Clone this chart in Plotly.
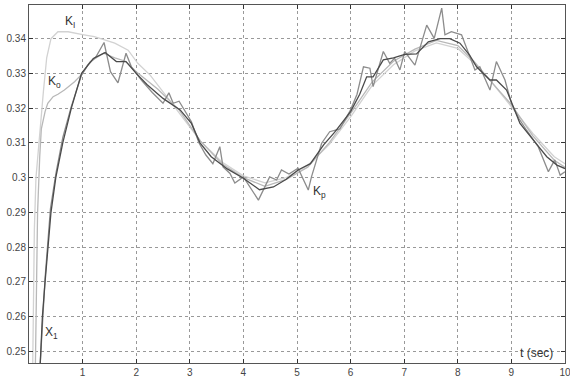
import plotly.graph_objects as go

# ---- data ----
t_KI = [0.07, 0.10, 0.13, 0.20, 0.27, 0.33, 0.41, 0.54, 0.73, 1.0, 1.22, 1.6, 1.85, 2.03, 2.26, 2.57, 2.8,
        3.2, 3.6, 4.0, 4.4, 4.8, 5.2, 5.6, 6.0, 6.4, 6.8, 7.2, 7.6, 8.0, 8.3, 8.6, 9.0, 9.4, 9.8, 10.0]
y_KI = [0.2466, 0.285, 0.300, 0.3137, 0.325, 0.3345, 0.3400, 0.3420, 0.3420, 0.3412, 0.3406, 0.3387, 0.3367,
        0.3329, 0.3295, 0.3233, 0.3185, 0.3105, 0.3045, 0.3005, 0.2985, 0.3000, 0.3035, 0.3095, 0.3175,
        0.3265, 0.3325, 0.3365, 0.3388, 0.3372, 0.3330, 0.3281, 0.3204, 0.3127, 0.3060, 0.3040]

t_Ko = [0.12, 0.16, 0.20, 0.23, 0.30, 0.35, 0.45, 0.54, 0.66, 0.85, 1.0, 1.14, 1.39, 1.6, 1.8, 2.0, 2.4, 2.8,
        3.2, 3.6, 4.0, 4.4, 4.8, 5.2, 5.6, 6.0, 6.4, 6.8, 7.2, 7.6, 8.0, 8.3, 8.6, 9.0, 9.4, 9.8, 10.0]
y_Ko = [0.2466, 0.290, 0.306, 0.314, 0.319, 0.3214, 0.3233, 0.3240, 0.3252, 0.3276, 0.3300, 0.3334, 0.3358,
        0.3345, 0.3335, 0.3305, 0.3255, 0.3195, 0.3105, 0.3040, 0.3000, 0.2975, 0.2995, 0.3030, 0.3100,
        0.3185, 0.3275, 0.3335, 0.3370, 0.3395, 0.3380, 0.3335, 0.3280, 0.3210, 0.3120, 0.3050, 0.3030]

t_X1 = [0.21, 0.25, 0.30, 0.35, 0.41, 0.50, 0.63, 0.79, 0.98, 1.2, 1.42, 1.63, 1.81, 2.0, 2.2, 2.5, 2.82,
        3.03, 3.19, 3.4, 3.7, 4.0, 4.3, 4.56, 4.8, 5.02, 5.25, 5.5, 5.7, 6.0, 6.17, 6.3, 6.42, 6.61, 6.8,
        7.01, 7.23, 7.45, 7.67, 7.85, 8.04, 8.22, 8.35, 8.6, 8.72, 8.91, 9.03, 9.16, 9.41, 9.66, 9.85, 10.0]
y_X1 = [0.2466, 0.260, 0.270, 0.280, 0.290, 0.300, 0.310, 0.320, 0.330, 0.3343, 0.3360, 0.3334, 0.3334,
        0.3300, 0.3268, 0.3228, 0.3195, 0.3156, 0.3100, 0.3060, 0.3025, 0.2998, 0.2965, 0.2973, 0.2995,
        0.3022, 0.3040, 0.3095, 0.3130, 0.3190, 0.3240, 0.3290, 0.3290, 0.3339, 0.3345, 0.3355, 0.3356,
        0.3391, 0.3400, 0.3400, 0.3387, 0.3353, 0.3319, 0.3281, 0.3281, 0.3252, 0.3204, 0.3156, 0.3108,
        0.3060, 0.3036, 0.3026]

t_Kp = [0.21, 0.3, 0.4, 0.5, 0.63, 0.79, 0.98, 1.1, 1.25, 1.40, 1.52, 1.66, 1.81, 1.91, 2.1, 2.3, 2.5, 2.61,
        2.69, 2.80, 3.03, 3.17, 3.30, 3.43, 3.56, 3.62, 3.75, 3.84, 4.0, 4.15, 4.28, 4.49, 4.62, 4.71, 4.85,
        5.02, 5.21, 5.27, 5.46, 5.61, 5.8, 6.0, 6.12, 6.24, 6.36, 6.42, 6.61, 6.73, 6.82, 6.92, 7.01, 7.20,
        7.42, 7.56, 7.70, 7.76, 7.88, 8.07, 8.23, 8.32, 8.41, 8.60, 8.72, 8.88, 9.0, 9.14, 9.28, 9.50, 9.69,
        9.81, 9.91, 10.0]
y_Kp = [0.2466, 0.271, 0.291, 0.301, 0.3115, 0.3205, 0.3295, 0.3325, 0.3348, 0.3389, 0.3305, 0.3273, 0.3358,
        0.3319, 0.3280, 0.3245, 0.3214, 0.3244, 0.3214, 0.3220, 0.3161, 0.3100, 0.3065, 0.3040, 0.3089,
        0.3031, 0.3012, 0.2984, 0.3002, 0.2965, 0.2935, 0.3002, 0.2993, 0.3022, 0.3010, 0.3027, 0.2964,
        0.3002, 0.3099, 0.3132, 0.3140, 0.3195, 0.3240, 0.3319, 0.3315, 0.3262, 0.3363, 0.3329, 0.3344,
        0.3310, 0.3363, 0.3324, 0.3439, 0.3401, 0.3488, 0.3411, 0.3420, 0.3411, 0.3344, 0.3310, 0.3319,
        0.3252, 0.3334, 0.3281, 0.3214, 0.3170, 0.3137, 0.3089, 0.3017, 0.3051, 0.3007, 0.3017]

x_ticks = [1, 2, 3, 4, 5, 6, 7, 8, 9, 10]
x_ticklabels = ["1", "2", "3", "4", "5", "6", "7", "8", "9", "10"]
y_ticks = [0.25, 0.26, 0.27, 0.28, 0.29, 0.30, 0.31, 0.32, 0.33, 0.34]
y_ticklabels = ["0.25", "0.26", "0.27", "0.28", "0.29", "0.3", "0.31", "0.32", "0.33", "0.34"]

fig = go.Figure()
fig.add_trace(go.Scatter(x=t_KI, y=y_KI, mode="lines", line=dict(color="#d2d2d2", width=1.3), name="KI"))
fig.add_trace(go.Scatter(x=t_Ko, y=y_Ko, mode="lines", line=dict(color="#b8b8b8", width=1.3), name="Ko"))
fig.add_trace(go.Scatter(x=t_Kp, y=y_Kp, mode="lines", line=dict(color="#8c8c8c", width=1.3), name="Kp"))
fig.add_trace(go.Scatter(x=t_X1, y=y_X1, mode="lines", line=dict(color="#4a4a4a", width=1.3), name="X1"))

font_lbl = dict(family="Liberation Sans, Arial, sans-serif", size=12, color="#333")
annos = [
    (0.76, 0.3448, "K<sub>I</sub>"),
    (0.47, 0.3275, "K<sub>o</sub>"),
    (5.42, 0.2958, "K<sub>p</sub>"),
    (0.42, 0.2551, "X<sub>1</sub>"),
    (9.47, 0.2496, "t (sec)"),
]
for ax_, ay_, txt in annos:
    fig.add_annotation(x=ax_, y=ay_, text=txt, showarrow=False, font=font_lbl)

axis_common = dict(
    showline=True, linecolor="#555", linewidth=1, mirror="ticks",
    ticks="inside", ticklen=4, tickcolor="#333",
    showgrid=True, gridcolor="#999", griddash="dot", gridwidth=1,
    zeroline=False, automargin=False, ticklabeloverflow="allow",
    tickfont=dict(family="Liberation Sans, Arial, sans-serif", size=10, color="#444"),
)
fig.update_layout(
    width=570, height=378,
    margin=dict(l=29, r=5, t=5, b=15, autoexpand=False),
    paper_bgcolor="white", plot_bgcolor="white",
    showlegend=False,
    xaxis=dict(range=[0, 10], tickvals=x_ticks, ticktext=x_ticklabels, **axis_common),
    yaxis=dict(range=[0.2466, 0.3497], tickvals=y_ticks, ticktext=y_ticklabels, **axis_common),
)
fig.write_html("out.html", config={"displayModeBar": False},
               post_script="document.body.style.margin='0';document.body.style.overflow='hidden';")
